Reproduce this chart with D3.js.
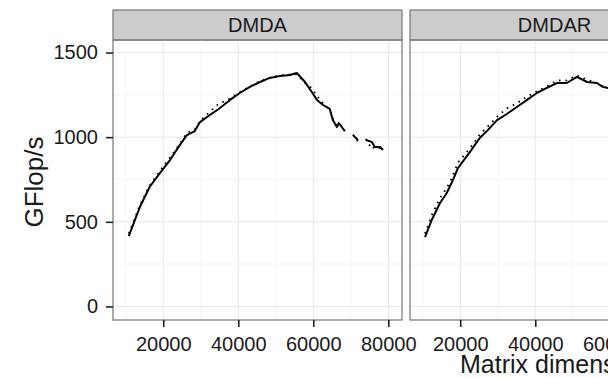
<!DOCTYPE html>
<html>
<head>
<meta charset="utf-8">
<script src="https://cdn.jsdelivr.net/npm/d3@7"></script>
<style>
  body { margin: 0; background: #fff; }
  svg text { font-family: "Liberation Sans", Arial, sans-serif; fill: #1a1a1a; }
  .axis path.domain { display: none; }
  .axis line { stroke: #222; stroke-width: 1.6px; }
</style>
</head>
<body>
<div id="chart"></div>
<script>
// facets, left to right
var facets = ["DMDA", "DMDAR"];

// DMDA: matrix size, solid series, dotted series (null = missing run)
var dmdaX      = [10800, 13800, 16400, 19100, 21800, 24400, 26300, 28400, 29800, 32400, 34700, 37800, 40400, 43100, 45800, 48400, 51100, 53800, 55600, 57800, 59600, 61000, 62600, 64400, 65200, 66300, 66800, 67600, 68400, 69500, 70600, 71900, 73000, 74000, 75600, 76400, 77800, 78600];
var dmdaSolid  = [416, 589, 707, 788, 865, 953, 1012, 1036, 1089, 1131, 1165, 1220, 1261, 1297, 1326, 1350, 1361, 1367, 1379, 1326, 1267, 1220, 1190, 1167, 1101, 1060, 1083, 1060, 1036, null, 1012, 983, null, 983, 972, 942, 942, 924];
var dmdaDotted = [430, 600, 715, 800, 880, 960, 1025, 1045, 1095, 1150, 1196, 1228, 1265, 1300, 1330, 1352, 1365, 1370, 1372, 1320, 1290, 1243, 1200, 1160, 1110, 1065, 1075, 1065, 1040, null, 1015, 975, null, 990, 930, 945, 935, 920];

// DMDAR
var dmdarX      = [10600, 12400, 14600, 16400, 17800, 19400, 22600, 25200, 27400, 29800, 32400, 35100, 37800, 40400, 43100, 45800, 48400, 51100, 53800, 56400, 58000, 59400, 61000];
var dmdarSolid  = [410, 511, 611, 670, 735, 818, 913, 995, 1043, 1101, 1137, 1178, 1220, 1261, 1291, 1320, 1320, 1356, 1326, 1320, 1297, 1291, 1280];
var dmdarDotted = [430, 540, 640, 700, 760, 850, 935, 1015, 1065, 1120, 1170, 1200, 1240, 1270, 1300, 1335, 1335, 1365, 1340, 1320, 1300, 1290, 1275];

var yTicks = [0, 500, 1000, 1500];
var yMinor = [250, 750, 1250];
var xTicks = [20000, 40000, 60000, 80000];
var xMinor = [10000, 30000, 50000, 70000];

var width = 608, height = 378;
var panelW = 289, panelGap = 8, left = 113;
var stripTop = 10, panelTop = 40, panelBottom = 320;

var svg = d3.select("#chart").append("svg")
  .attr("width", width)
  .attr("height", height);

var y = d3.scaleLinear().domain([-80, 1574]).range([panelBottom, panelTop]);
var x = d3.scaleLinear().domain([6600, 83650]).range([0, panelW]);

var series = {
  DMDA:  { x: dmdaX,  solid: dmdaSolid,  dotted: dmdaDotted },
  DMDAR: { x: dmdarX, solid: dmdarSolid, dotted: dmdarDotted }
};

facets.forEach(function(name, i) {
  var g = svg.append("g")
    .attr("transform", "translate(" + (left + i * (panelW + panelGap)) + ",0)");

  // strip
  g.append("rect")
    .attr("x", 0).attr("y", stripTop)
    .attr("width", panelW).attr("height", panelTop - stripTop)
    .style("fill", "#cccccc").style("stroke", "#7f7f7f").style("stroke-width", 1.3);
  g.append("text")
    .attr("x", panelW / 2).attr("y", 32)
    .attr("text-anchor", "middle")
    .style("font-size", "20px")
    .text(name);

  // grid
  var grid = g.append("g");
  grid.selectAll(".vmin").data(xMinor).enter().append("line")
    .attr("x1", x).attr("x2", x).attr("y1", panelTop).attr("y2", panelBottom)
    .style("stroke", "#f4f4f4").style("stroke-width", 1);
  grid.selectAll(".hmin").data(yMinor).enter().append("line")
    .attr("x1", 0).attr("x2", panelW).attr("y1", y).attr("y2", y)
    .style("stroke", "#f4f4f4").style("stroke-width", 1);
  grid.selectAll(".vmaj").data(xTicks).enter().append("line")
    .attr("x1", x).attr("x2", x).attr("y1", panelTop).attr("y2", panelBottom)
    .style("stroke", "#e8e8e8").style("stroke-width", 1);
  grid.selectAll(".hmaj").data(yTicks).enter().append("line")
    .attr("x1", 0).attr("x2", panelW).attr("y1", y).attr("y2", y)
    .style("stroke", "#e8e8e8").style("stroke-width", 1);

  // lines
  var s = series[name];
  var pts = function(vals) {
    return s.x.map(function(d, k) { return { x: d, y: vals[k] }; });
  };
  var line = d3.line()
    .defined(function(d) { return d.y !== null; })
    .x(function(d) { return x(d.x); })
    .y(function(d) { return y(d.y); });

  g.append("path").datum(pts(s.dotted))
    .attr("d", line)
    .style("fill", "none").style("stroke", "#000")
    .style("stroke-width", 1.8).style("stroke-dasharray", "1.6,5");
  g.append("path").datum(pts(s.solid))
    .attr("d", line)
    .style("fill", "none").style("stroke", "#000")
    .style("stroke-width", 2).style("stroke-linejoin", "round");

  // panel border
  g.append("rect")
    .attr("x", 0).attr("y", panelTop)
    .attr("width", panelW).attr("height", panelBottom - panelTop)
    .style("fill", "none").style("stroke", "#7f7f7f").style("stroke-width", 1.3);

  // x axis
  g.append("g")
    .attr("class", "axis")
    .attr("transform", "translate(0," + panelBottom + ")")
    .call(d3.axisBottom(x).tickValues(xTicks).tickFormat(d3.format("d")).tickSize(7).tickPadding(10))
    .selectAll("text").style("font-size", "20px").style("fill", "#1a1a1a");

  if (i === 0) {
    g.append("g")
      .attr("class", "axis")
      .call(d3.axisLeft(y).tickValues(yTicks).tickFormat(d3.format("d")).tickSize(7).tickPadding(8))
      .selectAll("text").style("font-size", "20px").style("fill", "#1a1a1a");
  }
});

// axis titles (x title centred over the full three-facet strip)
svg.append("text")
  .attr("transform", "translate(43,182) rotate(-90)")
  .attr("text-anchor", "middle")
  .style("font-size", "26px")
  .text("GFlop/s");

svg.append("text")
  .attr("x", left + (3 * panelW + 2 * panelGap) / 2)
  .attr("y", 373)
  .attr("text-anchor", "middle")
  .style("font-size", "25px")
  .text("Matrix dimension");
</script>
</body>
</html>
